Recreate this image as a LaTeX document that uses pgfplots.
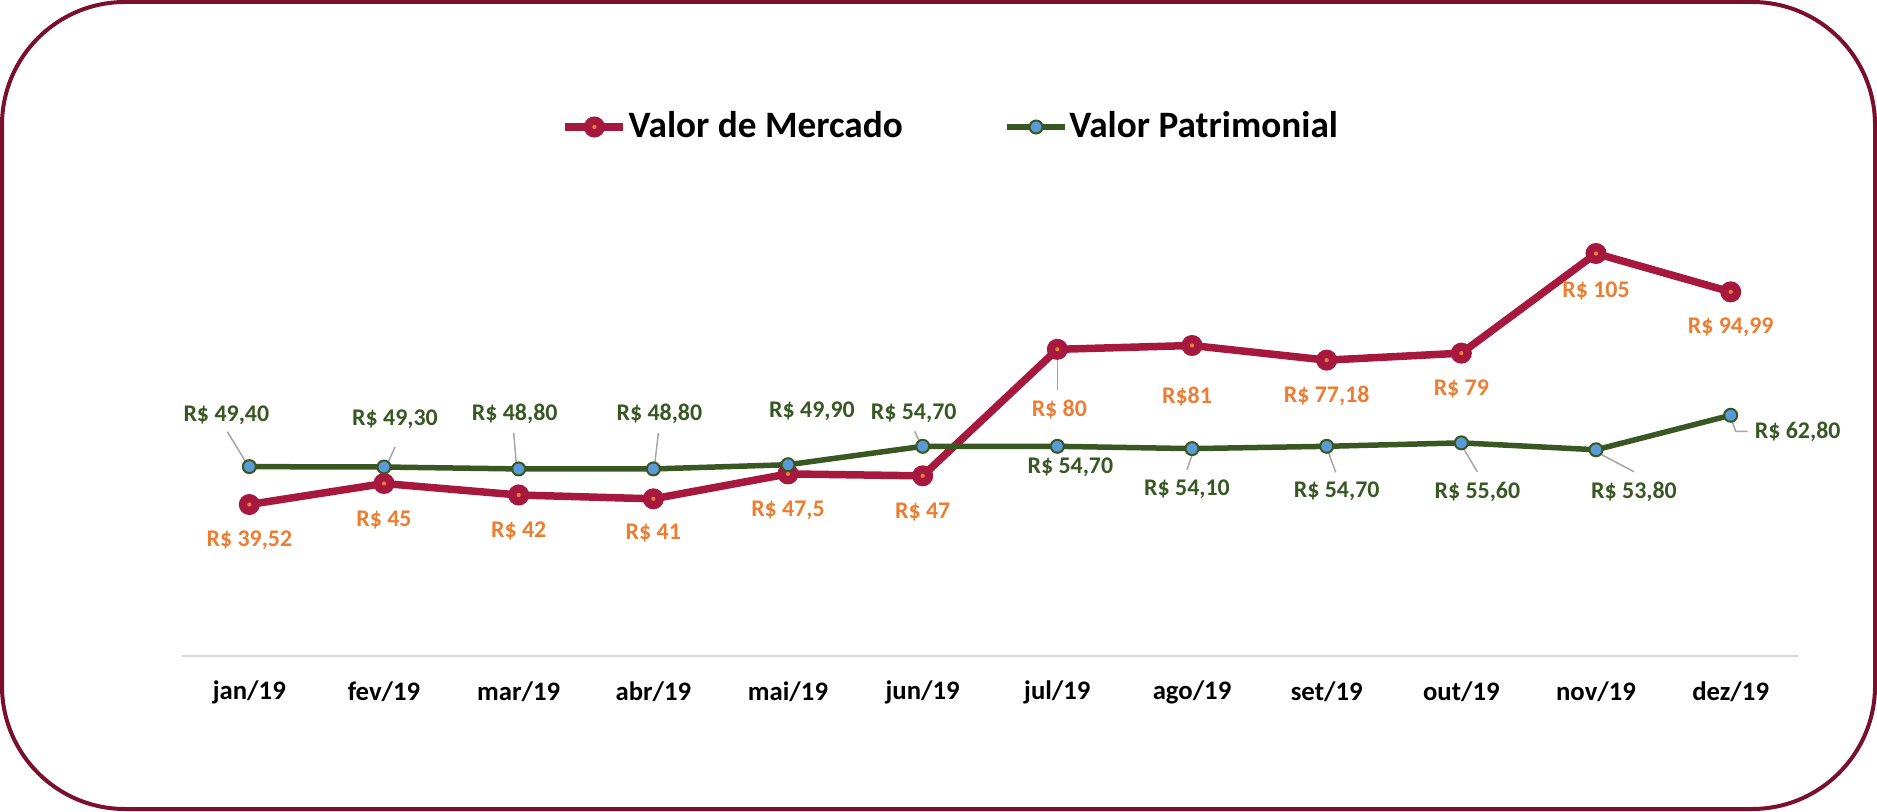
\documentclass[border=0pt]{standalone}
\usepackage{fontspec}
\setmainfont{Carlito}
\usepackage{pgfplots}
\usepackage{pgfplotstable}
\pgfplotsset{compat=1.18}
\definecolor{crim}{RGB}{166,24,62}
\definecolor{orng}{RGB}{237,125,49}
\definecolor{grn}{RGB}{56,87,35}
\definecolor{blu}{RGB}{91,155,213}
\definecolor{maroon}{RGB}{122,16,46}
\definecolor{axgray}{RGB}{217,217,217}
\definecolor{leadgray}{RGB}{166,166,166}
\tikzset{leader/.style={draw=leadgray, line width=0.15mm}}

\pgfdeclareplotmark{mercmark}{%
  \pgfpathcircle{\pgfpointorigin}{\pgfplotmarksize}%
  \pgfsetfillcolor{crim}\pgfusepathqfill
  \pgfpathcircle{\pgfpointorigin}{0.2\pgfplotmarksize}%
  \pgfsetfillcolor{orng}\pgfusepathqfill}

\pgfplotstableread{
x merc pat
0 39.52 49.4
1 45 49.3
2 42 48.8
3 41 48.8
4 47.5 49.9
5 47 54.7
6 80 54.7
7 81 54.1
8 77.18 54.7
9 79 55.6
10 105 53.8
11 94.99 62.8
}\data

\newcommand{\labfont}{\fontsize{6.8}{8}\selectfont\bfseries}

\begin{document}
\begin{tikzpicture}
\useasboundingbox (0,0) rectangle (187.7mm,81.1mm);
\draw[maroon, line width=0.4mm, rounded corners=12.3mm] (0.2mm,0.2mm) rectangle (187.5mm,80.9mm);
\begin{axis}[
  at={(18.2mm,15.5mm)}, anchor=south west,
  scale only axis, width=161.6mm, height=46mm,
  xmin=-0.5, xmax=11.5, ymin=0, ymax=120,
  clip=false,
  hide y axis,
  axis x line*=bottom,
  x axis line style={-, draw=axgray, line width=0.2mm},
  xtick={0,...,11},
  xticklabels={jan/19,fev/19,mar/19,abr/19,mai/19,jun/19,jul/19,ago/19,set/19,out/19,nov/19,dez/19},
  major tick length=0pt,
  xticklabel style={anchor=center, yshift=-3.6mm, font=\fontsize{7.6}{9}\selectfont\bfseries, text=black},
  legend image code/.code={\draw[mark repeat=2,mark phase=2] plot coordinates {(0mm,0mm)(2.9mm,0mm)(5.8mm,0mm)};},
  legend style={at={(0.4756,1.150)}, anchor=center, draw=none, fill=none,
    font=\fontsize{10.6}{12}\selectfont\bfseries,
    nodes={inner xsep=0.15mm},
    /tikz/every even column/.append style={column sep=10mm}},
  legend columns=2,
]
% leader lines
\draw[leader] ([shift={(-2.2mm,3.5mm)}]axis cs:0,49.4) -- ([shift={(-0.2mm,0.2mm)}]axis cs:0,49.4);
\draw[leader] ([shift={(1.1mm,2.0mm)}]axis cs:1,49.3) -- ([shift={(0.2mm,0mm)}]axis cs:1,49.3);
\draw[leader] ([shift={(-0.5mm,3.6mm)}]axis cs:2,48.8) -- ([shift={(-0.2mm,0.1mm)}]axis cs:2,48.8);
\draw[leader] ([shift={(0.5mm,3.6mm)}]axis cs:3,48.8) -- ([shift={(0.1mm,0.1mm)}]axis cs:3,48.8);
\draw[leader] ([shift={(-0.8mm,1.5mm)}]axis cs:5,54.7) -- ([shift={(-0.1mm,0mm)}]axis cs:5,54.7);
\draw[leader] ([shift={(0.2mm,-0.1mm)}]axis cs:7,54.1) -- ([shift={(-0.5mm,-2.1mm)}]axis cs:7,54.1);
\draw[leader] ([shift={(0mm,-0.1mm)}]axis cs:8,54.7) -- ([shift={(0.9mm,-2.6mm)}]axis cs:8,54.7);
\draw[leader] ([shift={(0mm,-0.2mm)}]axis cs:9,55.6) -- ([shift={(1.6mm,-2.9mm)}]axis cs:9,55.6);
\draw[leader] ([shift={(0mm,-0.2mm)}]axis cs:10,53.8) -- ([shift={(3.8mm,-2.2mm)}]axis cs:10,53.8);
\draw[leader] ([shift={(0mm,-0.2mm)}]axis cs:11,62.8) -- ([shift={(0.5mm,-1.6mm)}]axis cs:11,62.8) -- ([shift={(1.7mm,-1.6mm)}]axis cs:11,62.8);
\draw[leader] ([shift={(0mm,-0.5mm)}]axis cs:6,80) -- ([shift={(0mm,-4.1mm)}]axis cs:6,80);

\addplot[crim, line width=0.75mm, mark=mercmark, mark size=3pt] table[x=x,y=merc]{\data};
\addlegendentry{Valor de Mercado}
\addplot[grn, line width=0.55mm, mark=*, mark size=1.85pt, mark options={fill=blu, draw=grn, line width=0.2mm}] table[x=x,y=pat]{\data};
\addlegendentry{Valor Patrimonial}

% labels Patrimonial
\node[text=grn, font=\labfont] at ([shift={(-2.3mm,5.1mm)}]axis cs:0,49.4) {R\$ 49,40};
\node[text=grn, font=\labfont] at ([shift={(1.1mm,4.8mm)}]axis cs:1,49.3) {R\$ 49,30};
\node[text=grn, font=\labfont] at ([shift={(-0.4mm,5.5mm)}]axis cs:2,48.8) {R\$ 48,80};
\node[text=grn, font=\labfont] at ([shift={(0.6mm,5.5mm)}]axis cs:3,48.8) {R\$ 48,80};
\node[text=grn, font=\labfont] at ([shift={(2.4mm,5.3mm)}]axis cs:4,49.9) {R\$ 49,90};
\node[text=grn, font=\labfont] at ([shift={(-0.9mm,3.3mm)}]axis cs:5,54.7) {R\$ 54,70};
\node[text=grn, font=\labfont] at ([shift={(1.3mm,-2.1mm)}]axis cs:6,54.7) {R\$ 54,70};
\node[text=grn, font=\labfont] at ([shift={(-0.5mm,-4.1mm)}]axis cs:7,54.1) {R\$ 54,10};
\node[text=grn, font=\labfont] at ([shift={(1.0mm,-4.5mm)}]axis cs:8,54.7) {R\$ 54,70};
\node[text=grn, font=\labfont] at ([shift={(1.6mm,-4.9mm)}]axis cs:9,55.6) {R\$ 55,60};
\node[text=grn, font=\labfont] at ([shift={(3.8mm,-4.2mm)}]axis cs:10,53.8) {R\$ 53,80};
\node[text=grn, font=\labfont] at ([shift={(6.7mm,-1.7mm)}]axis cs:11,62.8) {R\$ 62,80};
% labels Mercado
\node[text=orng, font=\labfont] at ([shift={(0mm,-3.6mm)}]axis cs:0,39.52) {R\$ 39,52};
\node[text=orng, font=\labfont] at ([shift={(0mm,-3.7mm)}]axis cs:1,45) {R\$ 45};
\node[text=orng, font=\labfont] at ([shift={(0mm,-3.6mm)}]axis cs:2,42) {R\$ 42};
\node[text=orng, font=\labfont] at ([shift={(0mm,-3.4mm)}]axis cs:3,41) {R\$ 41};
\node[text=orng, font=\labfont] at ([shift={(0mm,-3.6mm)}]axis cs:4,47.5) {R\$ 47,5};
\node[text=orng, font=\labfont] at ([shift={(0mm,-3.6mm)}]axis cs:5,47) {R\$ 47};
\node[text=orng, font=\labfont] at ([shift={(0.2mm,-6.0mm)}]axis cs:6,80) {R\$ 80};
\node[text=orng, font=\labfont] at ([shift={(-0.5mm,-5.1mm)}]axis cs:7,81) {R\$81};
\node[text=orng, font=\labfont] at ([shift={(0mm,-3.6mm)}]axis cs:8,77.18) {R\$ 77,18};
\node[text=orng, font=\labfont] at ([shift={(0mm,-3.6mm)}]axis cs:9,79) {R\$ 79};
\node[text=orng, font=\labfont] at ([shift={(0mm,-3.7mm)}]axis cs:10,105) {R\$ 105};
\node[text=orng, font=\labfont] at ([shift={(0mm,-3.5mm)}]axis cs:11,94.99) {R\$ 94,99};
\end{axis}
\end{tikzpicture}
\end{document}
